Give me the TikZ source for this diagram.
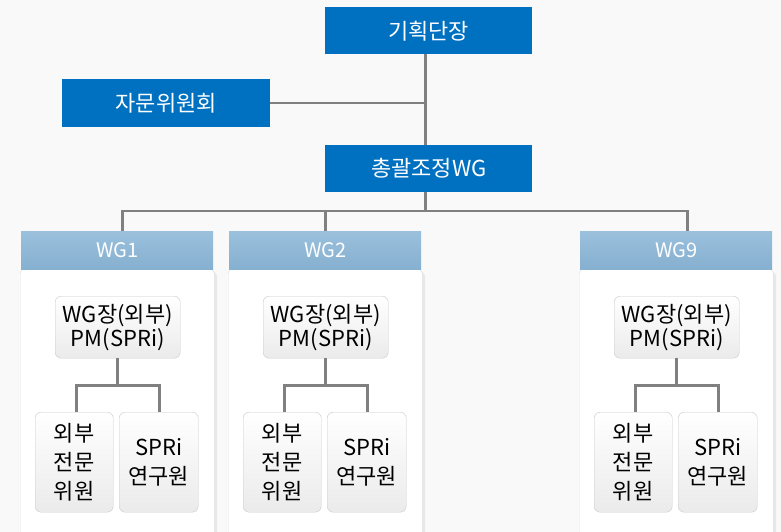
\documentclass[tikz,border=0pt]{standalone}
\usepackage{fontspec}
\setmainfont{Noto Sans CJK KR}
\usetikzlibrary{positioning}
\definecolor{bg}{HTML}{F9F9F9}
\definecolor{mainblue}{HTML}{0070C0}
\definecolor{hdtop}{HTML}{9AC0DC}
\definecolor{hdbot}{HTML}{86B0D0}
\definecolor{linegray}{HTML}{808080}
\definecolor{boxline}{HTML}{C9C9C9}
\tikzset{
  x=1pt,y=-1pt,
  bluebox/.style={fill=mainblue,text=white,font=\fontsize{22}{24}\selectfont,inner sep=0pt},
  header/.style={top color=hdtop,bottom color=hdbot,draw=none,text=white,font=\fontsize{20}{22}\selectfont,inner sep=0pt},
  bodybox/.style={fill=white,rounded corners=6pt,draw=black!12},
  innerbox/.style={top color=white,bottom color=black!8,draw=boxline,rounded corners=6pt,font=\fontsize{22}{29}\selectfont,align=center,inner sep=0pt},
  conn/.style={draw=linegray,line width=2.6pt}
}
\begin{document}
\begin{tikzpicture}
\fill[bg] (0,0) rectangle (781,532);
\useasboundingbox (0,0) rectangle (781,532);
% top level
\node[bluebox,minimum width=207pt,minimum height=47pt,anchor=north west] (head) at (325,7) {기획단장};
\node[bluebox,minimum width=208pt,minimum height=48pt,anchor=north west] (adv) at (62,79) {자문위원회};
\node[bluebox,minimum width=207pt,minimum height=47pt,anchor=north west] (gen) at (325,145) {총괄조정WG};
\coordinate (spine) at ([xshift=-3.5pt]head.south);
\coordinate (j1) at (spine |- adv.east);
\draw[conn] (spine) -- (spine |- gen.north);
\draw[conn] (adv.east) -- (j1);
\coordinate (bus) at (425,211);
% groups
\foreach \name/\dx/\lbl in {g1/0/WG1, g2/208/WG2, g9/559/WG9}{
  \begin{scope}[shift={(\dx,0)}]
    \fill[black!9,rounded corners=6pt] (22,271) rectangle (217,540);
    \node[bodybox,minimum width=194pt,minimum height=270pt,anchor=north west] (\name body) at (20,268) {};
    \node[header,minimum width=192pt,minimum height=38pt,anchor=north west] (\name hd) at (21,231) {\lbl};
    \node[innerbox,minimum width=125pt,minimum height=62pt,anchor=north west] (\name pm) at (55,296) {WG장(외부)\\[-5pt]PM(SPRi)};
    \node[innerbox,minimum width=78pt,minimum height=100pt,anchor=north west] (\name ext) at (35,412) {외부\\전문\\위원};
    \node[innerbox,minimum width=79pt,minimum height=100pt,anchor=north west] (\name res) at (119,412) {SPRi\\연구원};
    \coordinate (\name drop) at ([xshift=4pt]\name hd.north);
    \draw[conn] ([xshift=-0.5pt]\name pm.south) -- ++(0,27) -| ([xshift=2pt]\name ext.north);
    \draw[conn] ([xshift=-0.5pt]\name pm.south) ++(0,27) -| ([xshift=0.5pt]\name res.north);
  \end{scope}
}
\draw[conn] (spine |- gen.south) -- (spine |- bus);
\draw[conn] ([xshift=5pt]g1hd.north) -- ([xshift=5pt]g1hd.north |- bus) -- ([xshift=11pt]g9hd.north |- bus) -- ([xshift=11pt]g9hd.north);
\draw[conn] (g2hd.north) -- (g2hd.north |- bus);
\end{tikzpicture}
\end{document}
